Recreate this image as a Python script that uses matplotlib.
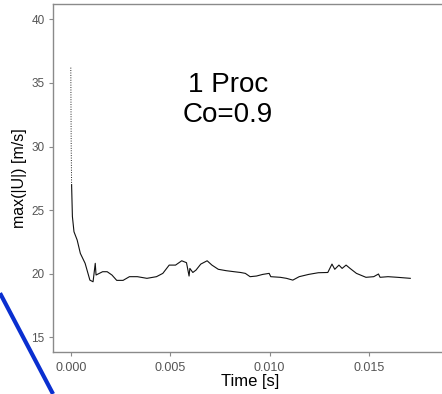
import matplotlib
matplotlib.use("Agg")
import matplotlib.pyplot as plt
from matplotlib.lines import Line2D

plt.rcParams['font.family'] = ['Liberation Sans', 'DejaVu Sans']

# initial transient (drawn faint/dotted)
t_init = [0.0, 0.00001, 0.00002, 0.00004]
u_init = [36.2, 33.0, 30.0, 27.0]

# main signal
t_main = [0.00004, 0.00008, 0.00016, 0.00032, 0.00048, 0.00072, 0.00096, 0.00112,
          0.00123, 0.00127, 0.0016, 0.00183, 0.00207, 0.00231, 0.00263, 0.00295,
          0.00335, 0.00383, 0.00431, 0.00463, 0.00495, 0.00527, 0.00558, 0.00582,
          0.00595, 0.00599, 0.00614, 0.0063, 0.00654, 0.00686, 0.0071, 0.00742,
          0.00782, 0.00822, 0.00854, 0.00878, 0.00902, 0.00934, 0.00966, 0.00998,
          0.01006, 0.01054, 0.01085, 0.01117, 0.01149, 0.01197, 0.01245, 0.01293,
          0.01314, 0.01328, 0.01349, 0.01365, 0.01385, 0.01405, 0.01437, 0.01485,
          0.01524, 0.01548, 0.01556, 0.01596, 0.01644, 0.01708]
u_main = [27.0, 24.5, 23.3, 22.65, 21.6, 20.82, 19.5, 19.37,
          20.82, 19.9, 20.16, 20.16, 19.9, 19.48, 19.48, 19.77,
          19.77, 19.64, 19.77, 20.03, 20.68, 20.68, 21.02, 20.87,
          19.82, 20.42, 20.1, 20.29, 20.76, 21.02, 20.68, 20.35,
          20.24, 20.16, 20.1, 20.03, 19.77, 19.82, 19.95, 20.03,
          19.77, 19.72, 19.64, 19.5, 19.77, 19.95, 20.08, 20.1,
          20.76, 20.35, 20.68, 20.42, 20.68, 20.42, 20.03, 19.72,
          19.77, 19.98, 19.72, 19.77, 19.72, 19.64]

xticks = [0.000, 0.005, 0.010, 0.015]
xticklabels = ["0.000", "0.005", "0.010", "0.015"]
yticks = [15, 20, 25, 30, 35, 40]

fig = plt.figure(figsize=(4.42, 3.94), dpi=100)
ax = fig.add_axes([0.1199, 0.1066, 0.95, 0.8832])

ax.plot(t_init, u_init, color='#222222', lw=0.7, ls=(0, (1, 1.5)))
ax.plot(t_main, u_main, color='#111111', lw=0.8)

ax.set_xlim(-0.000896, 0.01773 + 0.0025)
ax.set_ylim(13.85, 41.2)
ax.set_xticks(xticks)
ax.set_xticklabels(xticklabels)
ax.set_yticks(yticks)

spine_c = '#8a8a8a'
for s in ['left', 'bottom', 'top']:
    ax.spines[s].set_color(spine_c)
    ax.spines[s].set_linewidth(1.0)
ax.spines['right'].set_visible(False)
ax.tick_params(axis='both', colors='#555555', length=3,
               width=0.8, color=spine_c, pad=3)
ax.tick_params(axis='x', labelsize=9, pad=4)
ax.tick_params(axis='y', labelsize=8.5)
ax.set_xlabel("Time [s]", fontsize=12, color='black', va='center')
ax.xaxis.set_label_coords(0.469, -0.086)
ax.set_ylabel("max(|U|) [m/s]", fontsize=11.5, color='black', labelpad=3)

ax.text(0.00792, 33.65, "1 Proc\nCo=0.9", ha='center', va='center',
        fontsize=20, color='black', linespacing=1.2)

fig.add_artist(Line2D([0.0, 0.12], [0.256, 0.0], transform=fig.transFigure,
                      color='#0a2fd0', lw=3.0, solid_capstyle='butt'))

fig.savefig("out.png", dpi=100)
